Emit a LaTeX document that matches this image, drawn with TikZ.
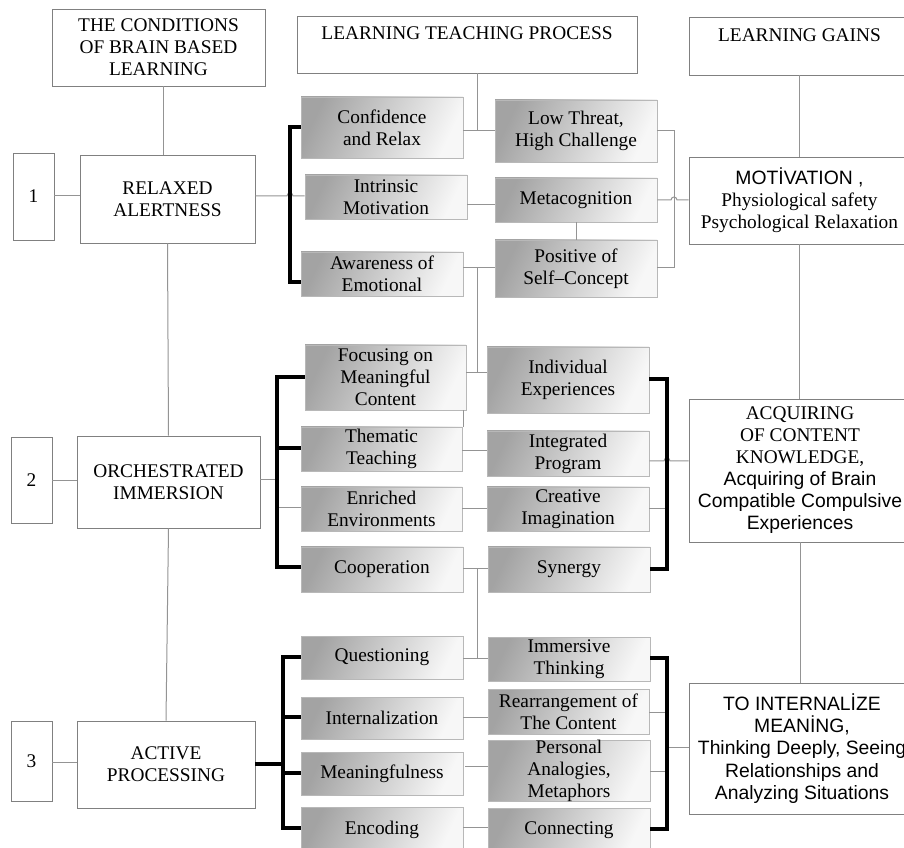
\documentclass[tikz,border=0pt]{standalone}
\usepackage{fontspec}
\setmainfont{Liberation Serif}
\newfontfamily\sansf{Liberation Sans}
\begin{document}
\begin{tikzpicture}[x=0.75pt,y=-0.75pt,
  every node/.style={font=\fontsize{14.5}{16.5}\selectfont, inner sep=0pt, align=center},
  rect/.style args={#1/#2/#3/#4}{at={({(#1+#3)/2},{(#2+#4)/2})}, minimum width={(#3-#1)*0.75pt}, minimum height={(#4-#2)*0.75pt}},
  wbox/.style={draw=black!50, fill=white, line width=0.7pt},
  gbox/.style={draw=black!28, line width=0.7pt, left color=black!36, right color=black!3, shading angle=65},
  conn/.style={draw=black!42, line width=0.75pt},
  brk/.style={draw=black, line width=2.3pt, line join=miter}]
\fill[white] (0,0) rectangle (904,848);
\useasboundingbox (0,0) rectangle (904,848);

% headers
\node[wbox, rect=52/9/265/86] (h1) {THE CONDITIONS\\OF BRAIN BASED\\LEARNING};
\node[wbox, rect=297/16/637/73] (h2) {LEARNING TEACHING PROCESS\\\mbox{}};
\node[wbox, rect=689/17/910/75] (h3) {LEARNING GAINS\\\mbox{}};

% left column
\node[wbox, rect=13/153/54/240] (n1) {1};
\node[wbox, rect=80/155/255/243] (ra) {RELAXED\\ALERTNESS};
\node[wbox, rect=11/437/52/523] (n2) {2};
\node[wbox, rect=77/436/260/528] (oi) {ORCHESTRATED\\IMMERSION};
\node[wbox, rect=11/721/52/801] (n3) {3};
\node[wbox, rect=77/721/255/808] (ap) {ACTIVE\\PROCESSING};

% right column
\node[wbox, rect=689/157/910/244] (mot) {{\sansf MOTİVATION ,}\\Physiological safety\\Psychological Relaxation};
\node[wbox, rect=689/399/911/542] (acq) {ACQUIRING\\OF CONTENT\\KNOWLEDGE,\\{\sansf Acquiring of Brain}\\{\sansf Compatible Compulsive}\\{\sansf Experiences}};
\node[wbox, rect=689/683/915/814, font=\fontsize{14.5}{16.8}\selectfont\sansf] (tin) {TO INTERNALİZE\\MEANİNG,\\Thinking Deeply, Seeing\\Relationships and\\Analyzing Situations};

% group 1
\node[gbox, rect=301/97/463/158] (conf) {Confidence\\and Relax};
\node[gbox, rect=305/175/467/219] (intr) {Intrinsic\\Motivation};
\node[gbox, rect=301/252/463/296] (awar) {Awareness of\\Emotional};
\node[gbox, rect=495/100/657/162] (lowt) {Low Threat,\\High Challenge};
\node[gbox, rect=495/178/657/222] (meta) {Metacognition};
\node[gbox, rect=495/240/657/297] (posi) {Positive of\\Self–Concept};

% group 2
\node[gbox, rect=305/345/466/410] (focu) {Focusing on\\Meaningful\\Content};
\node[gbox, rect=301/427/462/471] (them) {Thematic\\Teaching};
\node[gbox, rect=301/487/462/531] (enri) {Enriched\\Environments};
\node[gbox, rect=301/547/463/592] (coop) {Cooperation};
\node[gbox, rect=487/347/649/413] (indi) {Individual\\Experiences};
\node[gbox, rect=487/431/649/476] (inte) {Integrated\\Program};
\node[gbox, rect=487/487/649/531] (crea) {Creative\\Imagination};
\node[gbox, rect=488/547/650/592] (syne) {Synergy};

% group 3
\node[gbox, rect=301/636/463/679] (ques) {Questioning};
\node[gbox, rect=301/697/463/739] (intz) {Internalization};
\node[gbox, rect=301/752/463/795] (mean) {Meaningfulness};
\node[gbox, rect=301/807/463/852] (enco) {Encoding};
\node[gbox, rect=488/637/650/681] (imme) {Immersive\\Thinking};
\node[gbox, rect=488/689/649/734] (rear) {Rearrangement of\\The Content};
\node[gbox, rect=488/744/650/798] (pers) {Personal\\Analogies,\\Metaphors};
\node[gbox, rect=488/808/650/852] (conn) {Connecting};

% thin connectors: left column
\draw[conn] (163,0 |- h1.south) -- (163,0 |- ra.north);
\draw[conn] (n1.east |- 0,196) -- (ra.west |- 0,196);
\draw[conn] (ra.south) -- (oi.north);
\draw[conn] (n2.east |- 0,481) -- (oi.west |- 0,481);
\draw[conn] (oi.south) -- (ap.north);
\draw[conn] (n3.east |- 0,762) -- (ap.west |- 0,762);

% thin connectors: group 1
\draw[conn] (ra.east |- 0,196) -- (287,196) arc[start angle=180,end angle=360,radius=3] -- (intr.west |- 0,196);
\draw[conn] (conf.east |- 0,131) -- (lowt.west |- 0,131);
\draw[conn] (477,0 |- h2.south) -- (477,131);
\draw[conn] (intr.east |- 0,205) -- (meta.west |- 0,205);
\draw[conn] (meta.south) -- (posi.north);
\draw[conn] (awar.east |- 0,268) -- (posi.west |- 0,268);
\draw[conn] (477,268) -- (477,373);
\draw[conn] (lowt.east |- 0,131) -- (674,131) -- (674,268) -- (posi.east |- 0,268);
\draw[conn] (meta.east |- 0,200) -- (671,200) arc[start angle=180,end angle=360,radius=3] -- (mot.west |- 0,200);
\draw[conn] (mot.north |- h3.south) -- (mot.north);
\draw[conn] (mot.south) -- (mot.south |- acq.north);
\draw[conn] (acq.south) -- (acq.south |- tin.north);

% thin connectors: group 2
\draw[conn] (focu.east |- 0,373) -- (indi.west |- 0,373);
\draw[conn] (463,0 |- focu.south) -- (463,0 |- them.north);
\draw[conn] (oi.east |- 0,480) -- (277,480);
\draw[conn] (277,508) -- (enri.west |- 0,508);
\draw[conn] (them.east |- 0,451) -- (inte.west |- 0,451);
\draw[conn] (enri.east |- 0,509) -- (crea.west |- 0,509);
\draw[conn] (coop.east |- 0,569) -- (syne.west |- 0,569);
\draw[conn] (477,569) -- (477,658) -- (imme.west |- 0,658);
\draw[conn] (inte.east |- 0,461) -- (664,461) arc[start angle=180,end angle=360,radius=3] -- (acq.west |- 0,461);
\draw[conn] (crea.east |- 0,509) -- (667,509);

% thin connectors: group 3
\draw[conn] (ques.east |- 0,658) -- (imme.west |- 0,658);
\draw[conn] (intz.east |- 0,717) -- (rear.west |- 0,717);
\draw[conn] (465,766) -- (pers.west |- 0,766);
\draw[conn] (enco.east |- 0,827) -- (conn.west |- 0,827);
\draw[conn] (rear.east |- 0,712) -- (667,712);
\draw[conn] (pers.east |- 0,771) -- (667,771);
\draw[conn] (667,747) -- (tin.west |- 0,747);

% thick brackets
\draw[brk] (conf.west |- 0,127) -- (290,127) -- (290,282) -- (awar.west |- 0,282);
\draw[brk] (focu.west |- 0,377) -- (277,377) -- (277,567) -- (coop.west |- 0,567);
\draw[brk] (277,448) -- (them.west |- 0,448);
\draw[brk] (indi.east |- 0,379) -- (667,379) -- (667,569) -- (syne.east |- 0,569);
\draw[brk] (ques.west |- 0,657) -- (283,657) -- (283,828) -- (enco.west |- 0,828);
\draw[brk] (283,717) -- (intz.west |- 0,717);
\draw[brk] (283,773) -- (mean.west |- 0,773);
\draw[brk] (ap.east |- 0,764) -- (283,764);
\draw[brk] (imme.east |- 0,658) -- (667,658) -- (667,829) -- (conn.east |- 0,829);
\end{tikzpicture}
\end{document}
